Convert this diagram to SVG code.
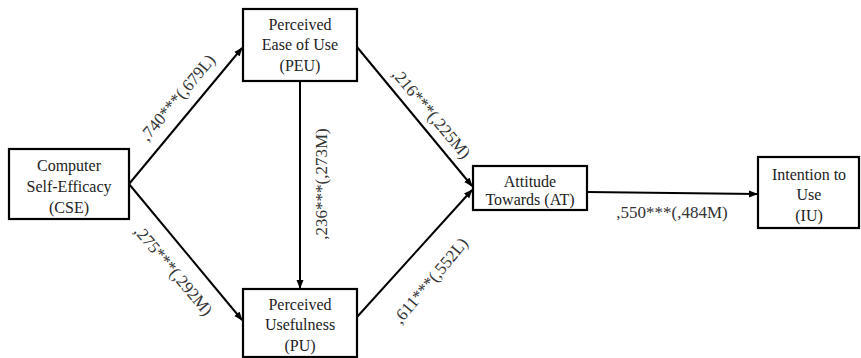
<svg xmlns="http://www.w3.org/2000/svg" width="861" height="358" viewBox="0 0 861 358">
<style>
.box{fill:#fff;stroke:#000;stroke-width:2.2}
.t{font-family:'Liberation Serif','DejaVu Serif',serif;font-size:16px;fill:#222;text-anchor:middle}
.c{stroke:#000;stroke-width:2;fill:none;marker-end:url(#ah)}
.l{font-family:'Liberation Serif','DejaVu Serif',serif;font-size:17px;fill:#333;text-anchor:middle}
</style>
<defs>
<marker id="ah" markerWidth="9" markerHeight="8" refX="8" refY="4" orient="auto" markerUnits="userSpaceOnUse">
<path d="M0,0.5 L9,4 L0,7.5 Z" fill="#000"/>
</marker>
</defs>
<rect width="861" height="358" fill="#fff"/>
<g id="connectors">
<line class="c" x1="129" y1="184" x2="242" y2="48"/>
<line class="c" x1="129" y1="184" x2="242" y2="320"/>
<line class="c" x1="300" y1="81" x2="300" y2="288"/>
<line class="c" x1="357" y1="47" x2="472" y2="186"/>
<line class="c" x1="357" y1="317" x2="472" y2="190"/>
<line class="c" x1="587" y1="192" x2="757" y2="194"/>
<text class="l" transform="translate(178,98) rotate(-50)" y="5">,740***(,679L)</text>
<text class="l" transform="translate(173,271) rotate(50)" y="5">,275***(,292M)</text>
<text class="l" transform="translate(322,184) rotate(-90)" y="5">,236***(,273M)</text>
<text class="l" transform="translate(431,114) rotate(50)" y="5">,216***(,225M)</text>
<text class="l" transform="translate(431,281) rotate(-50)" y="5">,611***(,552L)</text>
<text class="l" x="672" y="218">,550***(,484M)</text>
</g>
<g id="CSE">
<rect class="box" x="9" y="149" width="120" height="70"/>
<text class="t" x="69" y="171">Computer</text>
<text class="t" x="69" y="192">Self-Efficacy</text>
<text class="t" x="69" y="213">(CSE)</text>
</g>
<g id="PEU">
<rect class="box" x="243" y="9" width="114" height="72"/>
<text class="t" x="300" y="30">Perceived</text>
<text class="t" x="300" y="50">Ease of Use</text>
<text class="t" x="300" y="71">(PEU)</text>
</g>
<g id="PU">
<rect class="box" x="243" y="289" width="114" height="68"/>
<text class="t" x="300" y="310">Perceived</text>
<text class="t" x="300" y="330">Usefulness</text>
<text class="t" x="300" y="351">(PU)</text>
</g>
<g id="AT">
<rect class="box" x="473" y="166" width="114" height="44"/>
<text class="t" x="530" y="187">Attitude</text>
<text class="t" x="530" y="205">Towards (AT)</text>
</g>
<g id="IU">
<rect class="box" x="758" y="157" width="101" height="71"/>
<text class="t" x="809" y="180">Intention to</text>
<text class="t" x="809" y="200">Use</text>
<text class="t" x="809" y="221">(IU)</text>
</g>
</svg>
